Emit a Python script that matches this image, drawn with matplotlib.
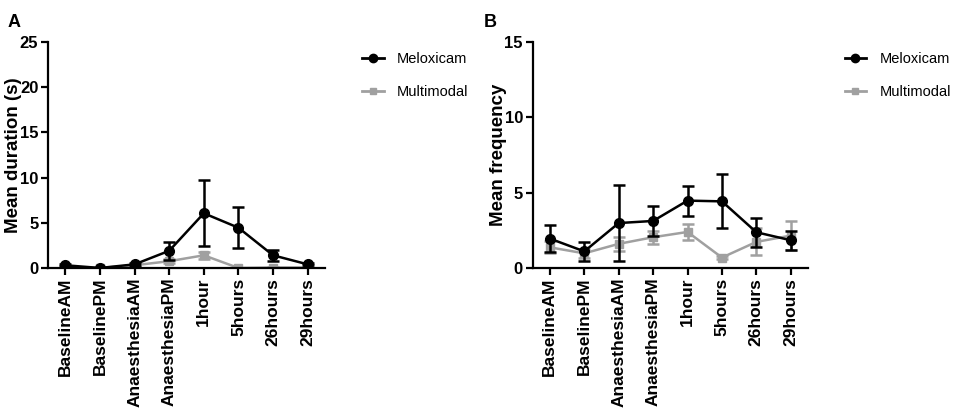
import numpy as np
import matplotlib.pyplot as plt
from matplotlib.lines import Line2D

plt.rcParams['font.family'] = ['Liberation Sans', 'DejaVu Sans']

timepoints = ["BaselineAM", "BaselinePM", "AnaesthesiaAM", "AnaesthesiaPM",
              "1hour", "5hours", "26hours", "29hours"]

# Panel A: mean duration (s)
dur_melox = [0.3, 0.0, 0.4, 1.9, 6.05, 4.45, 1.4, 0.4]
dur_melox_err = [0.1, 0.05, 0.2, 1.0, 3.65, 2.25, 0.6, 0.1]
dur_multi = [0.1, 0.0, 0.3, 0.75, 1.4, 0.0, 0.05, 0.05]
dur_multi_err = [0.05, 0.0, 0.1, 0.2, 0.4, 0.0, 0.05, 0.0]

# Panel B: mean frequency
freq_melox = [1.95, 1.1, 2.98, 3.12, 4.47, 4.42, 2.37, 1.84]
freq_melox_err = [0.9, 0.62, 2.5, 0.97, 1.0, 1.8, 0.95, 0.62]
freq_multi = [1.37, 0.97, 1.6, 2.04, 2.39, 0.69, 1.73, 2.15]
freq_multi_err = [0.4, 0.3, 0.45, 0.44, 0.52, 0.1, 0.9, 0.95]

black = "#000000"
grey = "#a0a0a0"

fig = plt.figure(figsize=(9.57, 4.11), dpi=100)
axA = fig.add_axes([0.0502, 0.348, 0.2894, 0.550])
axB = fig.add_axes([0.5566, 0.348, 0.2877, 0.550])

x = np.arange(len(timepoints))


def draw(ax, m, me, g, ge, ymax, ylabel):
    ax.errorbar(x, g, yerr=ge, color=grey, marker="s", markersize=6, lw=1.8,
                capsize=4.5, capthick=1.8, elinewidth=1.8, zorder=2)
    ax.errorbar(x, m, yerr=me, color=black, marker="o", markersize=7, lw=1.8,
                capsize=4.5, capthick=1.8, elinewidth=1.8, zorder=3)
    ax.set_xlim(-0.5, 7.5)
    ax.set_ylim(0, ymax)
    ax.set_yticks(np.arange(0, ymax + 1, 5))
    ax.set_xticks(x)
    ax.set_xticklabels(timepoints, rotation=90, fontweight="bold", fontsize=12.5)
    for t in ax.get_yticklabels():
        t.set_fontweight("bold")
        t.set_fontsize(12)
    ax.set_ylabel(ylabel, fontweight="bold", fontsize=13.5)
    ax.yaxis.set_label_coords(-0.095, 0.5)
    ax.spines["top"].set_visible(False)
    ax.spines["right"].set_visible(False)
    ax.spines["left"].set_linewidth(1.6)
    ax.spines["bottom"].set_linewidth(1.6)
    ax.tick_params(direction="out", length=5, width=1.6, pad=2)
    handles = [Line2D([], [], color=black, marker="o", markersize=6, lw=2),
               Line2D([], [], color=grey, marker="s", markersize=5, lw=2)]
    ax.legend(handles, ["Meloxicam", "Multimodal"], loc="upper left",
              bbox_to_anchor=(1.085, 1.015), frameon=False, fontsize=10.5,
              handlelength=1.5, labelspacing=1.35, handletextpad=0.9)


draw(axA, dur_melox, dur_melox_err, dur_multi, dur_multi_err, 25, "Mean duration (s)")
draw(axB, freq_melox, freq_melox_err, freq_multi, freq_multi_err, 15, "Mean frequency")

fig.text(0.008, 0.965, "A", fontweight="bold", fontsize=13, va="top")
fig.text(0.505, 0.965, "B", fontweight="bold", fontsize=13, va="top")

fig.savefig("out.png", dpi=100)
